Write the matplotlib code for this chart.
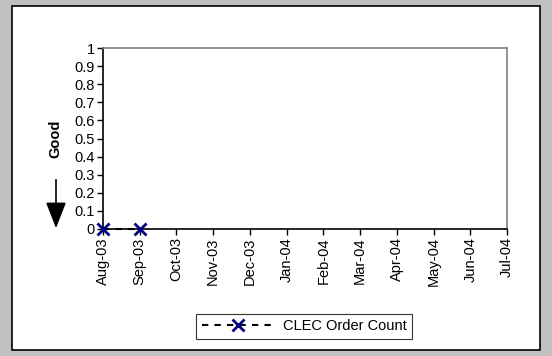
import numpy as np
import matplotlib.pyplot as plt
from matplotlib.patches import Rectangle, FancyArrowPatch

months = ['Aug-03', 'Sep-03', 'Oct-03', 'Nov-03', 'Dec-03', 'Jan-04',
          'Feb-04', 'Mar-04', 'Apr-04', 'May-04', 'Jun-04', 'Jul-04']
order_count = [0, 0] + [np.nan] * 10
yticks = [0, 0.1, 0.2, 0.3, 0.4, 0.5, 0.6, 0.7, 0.8, 0.9, 1]

W, H = 552, 356
plt.rcParams['font.family'] = ['Liberation Sans', 'DejaVu Sans']
fig = plt.figure(figsize=(W / 100, H / 100), dpi=100)
fig.patch.set_facecolor('#c0c0c0')

# white panel with black border
fig.patches.append(Rectangle((12 / W, 1 - 350 / H), 528 / W, 344 / H,
                             transform=fig.transFigure, facecolor='white',
                             edgecolor='black', linewidth=1.2, zorder=-5))

ax = fig.add_axes([103 / W, 1 - 229 / H, 404 / W, 181 / H])
ax.set_zorder(3)
x = np.arange(len(months))
ax.plot(x, order_count, color='black', linestyle=(0, (3, 3)), linewidth=1.5,
        marker='x', markersize=8, markeredgewidth=2, markeredgecolor='#000080',
        label='CLEC Order Count', clip_on=False, zorder=5)

ax.set_xlim(0, len(months) - 1)
ax.set_ylim(0, 1)
ax.set_xticks(x)
ax.set_xticklabels(months, rotation=90, fontsize=10.5)
ax.set_yticks(yticks)
ax.set_yticklabels([f'{v:g}' for v in yticks], fontsize=10.5)
ax.tick_params(axis='both', direction='out', length=4, width=1, color='black', pad=2)
ax.spines['left'].set_color('black')
ax.spines['bottom'].set_color('black')
ax.spines['top'].set_color('#808080')
ax.spines['right'].set_color('#808080')
for s in ax.spines.values():
    s.set_linewidth(1.2)

fig.text(55 / W, 1 - 139 / H, 'Good', rotation=90, fontsize=10.5, fontweight='bold',
         ha='center', va='center')
fig.add_artist(FancyArrowPatch(
    (56 / W, 1 - 177 / H), (56 / W, 1 - 231 / H), transform=fig.transFigure,
    arrowstyle='-|>,head_length=0.9,head_width=0.35', mutation_scale=18,
    color='black', linewidth=1.2))

leg = fig.legend(loc='center', bbox_to_anchor=(304 / W, 1 - 326.5 / H), fontsize=10.5,
                 frameon=True, fancybox=False, edgecolor='black', handlelength=5,
                 handletextpad=0.55, borderpad=0.4)
leg.get_frame().set_linewidth(0.8)

fig.savefig('out.png', dpi=100, facecolor=fig.get_facecolor())
